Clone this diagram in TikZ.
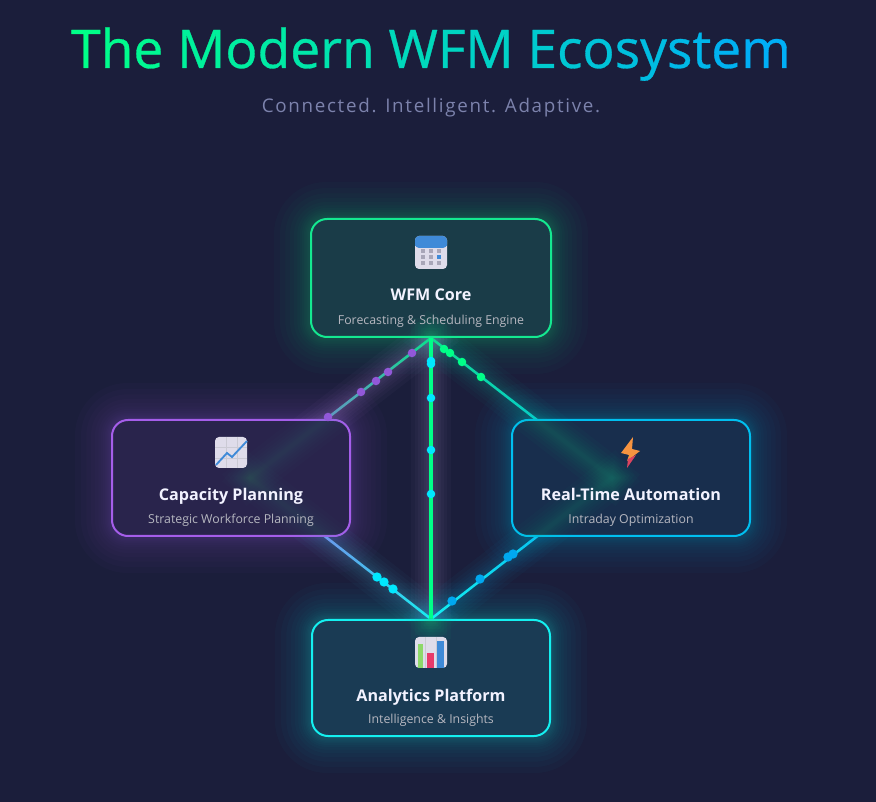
\documentclass[tikz,border=0pt]{standalone}
\usepackage{fontspec}
\setmainfont{Open Sans}
\usetikzlibrary{calc,backgrounds}
\definecolor{pagebg}{HTML}{1B1E3B}
\definecolor{titlestart}{HTML}{00FF88}
\definecolor{titleend}{HTML}{00A8FF}
\definecolor{subgray}{HTML}{7C82AC}
\definecolor{coregreen}{HTML}{14E890}
\definecolor{linegreen}{HTML}{10DC90}
\definecolor{planpurple}{HTML}{A55EEA}
\definecolor{autoblue}{HTML}{00BFF0}
\definecolor{anacyan}{HTML}{14F0F0}
\definecolor{dotpurple}{HTML}{9258D8}
\definecolor{dotgreen}{HTML}{00FF88}
\definecolor{dotcyan}{HTML}{00E8FF}
\definecolor{dotblue}{HTML}{00A8F0}
\definecolor{iconpaper}{HTML}{DFDCEA}
\definecolor{icongray}{HTML}{A8A6B8}
\definecolor{iconblue}{HTML}{3F8AD8}
\definecolor{iconpink}{HTML}{E83A6A}
\definecolor{iconlime}{HTML}{8ED86A}
\definecolor{boltorange}{HTML}{F79440}
\definecolor{boltred}{HTML}{DE4460}
\tikzset{
  card/.style={draw, rounded corners=12pt, line width=1.5pt, minimum width=178.5pt, minimum height=87pt, inner sep=0pt},
  cardtitle/.style={font=\fontsize{12.1pt}{15pt}\selectfont\bfseries, text=white!95!blue, anchor=base},
  cardsub/.style={font=\fontsize{9.25pt}{11pt}\selectfont, text=white!68!pagebg, anchor=base},
}
\newcommand{\cardglow}[2]{%
  \foreach \w in {3,5,7,9,12,15,19,24,30,37,45,54}
    \draw[#2, line width=\w pt, opacity=.024, line join=round, rounded corners=12pt] (#1.south west) rectangle (#1.north east);
}
\newcommand{\lineglow}[4][.03]{%
  \foreach \w in {3,5,8,11,15,19,24,30}
    \draw[#4, line width=\w pt, opacity=#1, line cap=rect] (#2) -- (#3);
}
\newcommand{\gradline}[5]{%
  \foreach \s [evaluate=\s as \pct using \s*5, evaluate=\s as \nxt using (\s+1)/20] in {0,...,19}
    \draw[color=#4!\pct!#3, line width=#5, line cap=round] ($(#1)!\s/20!(#2)$) -- ($(#1)!\nxt!(#2)$);
}
\begin{document}
\begin{tikzpicture}[x=0.75pt, y=-0.75pt]
  \useasboundingbox (0,0) rectangle (876,802);
  \begin{scope}[on background layer]
    \fill[pagebg] (0,0) rectangle (876,802);
  \end{scope}

  \node[card, draw=coregreen, fill=coregreen!15!pagebg, minimum width=180pt, minimum height=88.5pt] (core) at (431,278) {};
  \node[card, draw=planpurple, fill=planpurple!10!pagebg] (capacity) at (231,478) {};
  \node[card, draw=autoblue, fill=autoblue!10!pagebg] (automation) at (631,478) {};
  \node[card, draw=anacyan, fill=anacyan!14!pagebg] (analytics) at (431,678) {};
  \coordinate (caphub) at (250,478);
  \coordinate (autohub) at (612,478);

  \begin{scope}[on background layer]
    \cardglow{core}{coregreen}
    \cardglow{capacity}{planpurple}
    \cardglow{automation}{autoblue}
    \cardglow{analytics}{anacyan}
    \lineglow{core.south}{caphub}{white!40!planpurple}
    \lineglow{core.south}{autohub}{coregreen!60!autoblue}
    \lineglow{core.south}{analytics.north}{white!50!planpurple}
    \lineglow{caphub}{analytics.north}{white!30!autoblue}
    \lineglow{autohub}{analytics.north}{autoblue}
    \gradline{core.south}{caphub}{linegreen}{planpurple}{1.9pt}
    \gradline{core.south}{autohub}{linegreen}{autoblue}{1.9pt}
    \gradline{caphub}{analytics.north}{planpurple}{anacyan}{1.9pt}
    \gradline{autohub}{analytics.north}{dotblue}{anacyan}{1.9pt}
    \draw[dotgreen, line width=2.8pt] (core.south) -- (analytics.north);
  \end{scope}

  \begin{scope}
    \clip[rounded corners=12pt] (core.south west) rectangle (core.north east)
      (capacity.south west) rectangle (capacity.north east)
      (automation.south west) rectangle (automation.north east)
      (analytics.south west) rectangle (analytics.north east);
    \lineglow[.012]{core.south}{caphub}{white!20!coregreen}
    \lineglow[.012]{caphub}{analytics.north}{white!20!coregreen}
    \lineglow[.024]{core.south}{autohub}{coregreen}
    \lineglow[.02]{autohub}{analytics.north}{coregreen}
    \lineglow[.03]{core.south}{analytics.north}{coregreen}
  \end{scope}

  \foreach \x/\y in {412/353, 388/372, 376/381, 361/392, 328/417}
    \fill[dotpurple] (\x,\y) circle (3.2pt);
  \foreach \x/\y in {444/349, 450/353, 462/362, 481/377}
    \fill[dotgreen] (\x,\y) circle (3.2pt);
  \foreach \x/\y in {431/361, 431/364, 431/398, 431/450, 431/494}
    \fill[dotcyan] (\x,\y) circle (3.2pt);
  \foreach \x/\y in {377/577, 384/582, 393/589}
    \fill[dotcyan] (\x,\y) circle (3.5pt);
  \foreach \x/\y in {513/554, 508/557, 480/579, 452/601}
    \fill[dotblue] (\x,\y) circle (3.5pt);

  \node[font=\fontsize{40pt}{50pt}\selectfont\addfontfeature{FakeBold=0.6}, anchor=base] (maintitle) at (431,68) {%
    \foreach \ch [count=\n, evaluate=\n as \pct using (\n-1)*4] in {T,h,e,~,M,o,d,e,r,n,~,W,F,M,~,E,c,o,s,y,s,t,e,m}{\textcolor{titleend!\pct!titlestart}{\ch}}};
  \node[font=\fontsize{14.1pt}{16pt}\selectfont\addfontfeature{LetterSpace=9}, text=subgray, anchor=base] (subtitle) at (431,113) {Connected. Intelligent. Adaptive.};

  \fill[iconpaper, rounded corners=3pt] (415,236) rectangle (447,269);
  \fill[iconblue, rounded corners=3pt] (415,236) rectangle (447,248);
  \fill[iconblue] (415,242) rectangle (447,246);
  \foreach \x in {423,431,439} \foreach \y in {251,257.5,263}
    \fill[icongray] (\x-2,\y-2) rectangle (\x+2,\y+2);
  \fill[iconblue] (437,255.5) rectangle (441,259.5);
  \node[cardtitle] (coretitle) at (431,301) {WFM Core};
  \node[cardsub] (coresub) at (431,325) {Forecasting \& Scheduling Engine};

  \fill[iconpaper, rounded corners=3pt] (215,437) rectangle (247,468);
  \draw[icongray!60] (226,437) -- (226,468) (237,437) -- (237,468) (215,447) -- (247,447) (215,458) -- (247,458);
  \draw[iconblue, line width=1.4pt] (216,465) -- (227,453) -- (232,457) -- (247,441);
  \node[cardtitle] (captitle) at (231,501) {Capacity Planning};
  \node[cardsub] (capsub) at (231,524) {Strategic Workforce Planning};

  \fill[boltorange] (633,437) -- (621,453) -- (629,455) -- (627,461) -- (640,451) -- (632,449) -- cycle;
  \fill[boltred] (628,459) -- (627,468) -- (636,455) -- cycle;
  \node[cardtitle] (autotitle) at (631,501) {Real-Time Automation};
  \node[cardsub] (autosub) at (631,524) {Intraday Optimization};

  \fill[iconpaper, rounded corners=3pt] (415,637) rectangle (447,668);
  \draw[icongray!60] (425,637) -- (425,668) (436,637) -- (436,668);
  \fill[iconlime] (418,644) rectangle (423,668);
  \fill[iconpink] (427,653) rectangle (434,668);
  \fill[iconblue] (437,641) rectangle (444,668);
  \node[cardtitle] (anatitle) at (431,701) {Analytics Platform};
  \node[cardsub] (anasub) at (431,724) {Intelligence \& Insights};
\end{tikzpicture}
\end{document}
